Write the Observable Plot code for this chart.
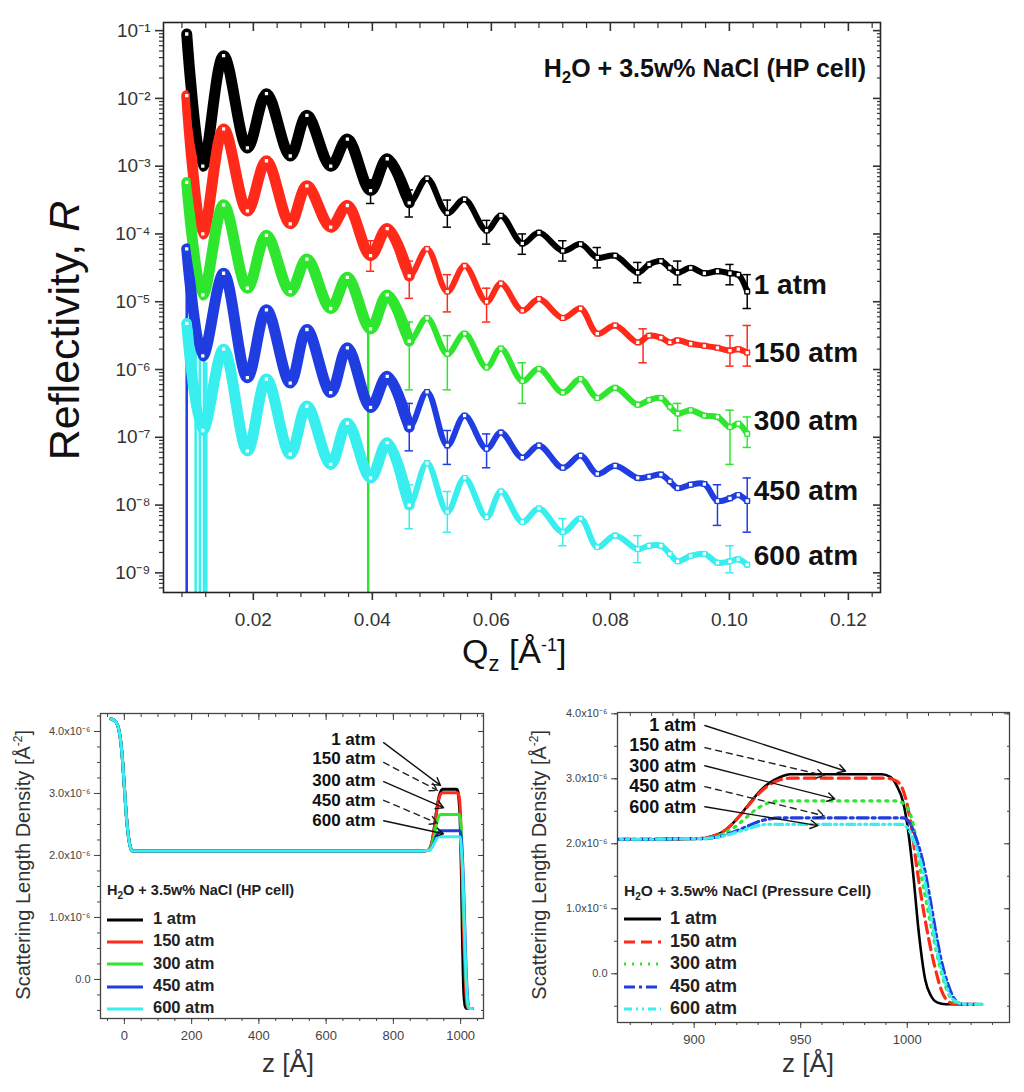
<!DOCTYPE html>
<html>
<head>
<meta charset="utf-8">
<script src="https://cdn.jsdelivr.net/npm/d3@7"></script>
<script src="https://cdn.jsdelivr.net/npm/@observablehq/plot@0.6"></script>
<style>
  body { margin: 0; background: #fff; font-family: "Liberation Sans", Arial, sans-serif; }
  #page { position: relative; width: 1024px; height: 1092px; overflow: hidden; background: #fff; }
  .abs { position: absolute; white-space: nowrap; color: #111; }
  .rot { transform-origin: center center; }
  .leg { position: absolute; font-weight: bold; color: #222; white-space: nowrap; }
  .leg svg { vertical-align: middle; }
</style>
</head>
<body>
<div id="page">
  <div id="main" class="abs" style="left:0;top:0"></div>
  <div id="sldLeft" class="abs" style="left:0;top:690px"></div>
  <div id="sldRight" class="abs" style="left:512px;top:690px"></div>

  <!-- titles and axis labels -->
  <div class="abs" style="right:158px;top:54px;font-size:25px;font-weight:bold">H<sub style="font-size:17px">2</sub>O + 3.5w% NaCl (HP cell)</div>
  <div class="abs rot" style="left:-86px;top:306px;width:300px;text-align:center;font-size:43px;transform:rotate(-90deg)">Reflectivity, <i>R</i></div>
  <div class="abs" style="left:462px;top:632px;font-size:34px">Q<sub style="font-size:22px">z</sub> [Å<sup style="font-size:18px">-1</sup>]</div>

  <div class="abs rot" style="left:-152px;top:853px;width:350px;text-align:center;font-size:20px;color:#333;transform:rotate(-90deg)">Scattering Length Density [Å<sup style="font-size:12px">-2</sup>]</div>
  <div class="abs" style="left:262px;top:1048px;font-size:26px;color:#333">z [Å]</div>

  <div class="abs rot" style="left:364px;top:853px;width:350px;text-align:center;font-size:20px;color:#333;transform:rotate(-90deg)">Scattering Length Density [Å<sup style="font-size:12px">-2</sup>]</div>
  <div class="abs" style="left:782px;top:1048px;font-size:26px;color:#333">z [Å]</div>

  <div id="legLeft"></div>
  <div id="legRight"></div>
</div>

<script>
// ---------- reflectivity curves (values are log10 R) ----------
const pressures = ["1 atm", "150 atm", "300 atm", "450 atm", "600 atm"];
const colors = ["#000000", "#ff2a1a", "#2fe62f", "#1f3de0", "#38eeee"];

const qz = [0.0088, 0.0115, 0.0150, 0.0190, 0.0222, 0.0262, 0.0290, 0.0330, 0.0358, 0.0397,
            0.0425, 0.0462, 0.0492, 0.0526, 0.0555, 0.0592, 0.0616, 0.0652, 0.0680, 0.0720,
            0.0750, 0.0778, 0.0808, 0.0846, 0.0865, 0.0885, 0.0900, 0.0913, 0.0935, 0.0958,
            0.0980, 0.1001, 0.1015, 0.1030];

const logR1 = [-1.05, -3.0, -1.37, -2.73, -1.93, -2.85, -2.25, -3.0, -2.6, -3.36,
               -2.89, -3.54, -3.18, -3.69, -3.49, -3.95, -3.73, -4.14, -3.98, -4.25,
               -4.15, -4.35, -4.32, -4.57, -4.45, -4.4, -4.5, -4.57, -4.5, -4.58,
               -4.55, -4.58, -4.6, -4.85];
const logR150 = [-1.96, -4.0, -2.45, -3.66, -2.92, -3.85, -3.29, -3.9, -3.58, -4.32,
                 -3.92, -4.62, -4.22, -4.85, -4.47, -5.0, -4.73, -5.13, -4.96, -5.24,
                 -5.1, -5.47, -5.35, -5.6, -5.5, -5.53, -5.6, -5.57, -5.62, -5.65,
                 -5.68, -5.72, -5.7, -5.75];
const logR300 = [-3.24, -4.9, -3.57, -4.8, -4.02, -4.85, -4.37, -5.1, -4.64, -5.4,
                 -4.9, -5.58, -5.24, -5.77, -5.47, -5.97, -5.69, -6.17, -5.99, -6.34,
                 -6.14, -6.42, -6.27, -6.52, -6.45, -6.42, -6.55, -6.65, -6.6, -6.68,
                 -6.7, -6.85, -6.8, -6.95];
const logR450 = [-4.22, -5.8, -4.58, -6.12, -5.12, -6.2, -5.41, -6.34, -5.68, -6.56,
                 -6.1, -6.85, -6.33, -7.12, -6.68, -7.17, -6.93, -7.3, -7.12, -7.45,
                 -7.27, -7.54, -7.42, -7.6, -7.58, -7.55, -7.65, -7.75, -7.7, -7.69,
                 -7.94, -7.9, -7.85, -7.94];
const logR600 = [-5.32, -6.9, -5.7, -7.2, -6.14, -7.25, -6.54, -7.4, -6.79, -7.6,
                 -7.08, -8.0, -7.38, -8.1, -7.6, -8.18, -7.8, -8.25, -8.05, -8.4,
                 -8.2, -8.62, -8.45, -8.65, -8.6, -8.6, -8.72, -8.83, -8.75, -8.72,
                 -8.85, -8.83, -8.8, -8.88];
const logR = [logR1, logR150, logR300, logR450, logR600];

// error bars [series, q, low, high] (log10)
const errBars = [
  [0, 0.0397, -3.55, -3.2], [0, 0.0462, -3.75, -3.35], [0, 0.0526, -3.9, -3.5], [0, 0.0592, -4.15, -3.8],
  [0, 0.0652, -4.3, -4.0], [0, 0.0720, -4.4, -4.1], [0, 0.0778, -4.5, -4.2], [0, 0.0846, -4.72, -4.42],
  [0, 0.0913, -4.75, -4.4], [0, 0.1001, -4.75, -4.45], [0, 0.1030, -5.1, -4.6],
  [1, 0.0397, -4.55, -4.1], [1, 0.0462, -4.95, -4.4], [1, 0.0526, -5.15, -4.6], [1, 0.0592, -5.3, -4.8],
  [1, 0.0855, -5.9, -5.4], [1, 0.1001, -5.95, -5.5], [1, 0.1030, -5.95, -5.35],
  [2, 0.0462, -6.3, -5.3], [2, 0.0526, -6.3, -5.5], [2, 0.0652, -6.5, -5.9], [2, 0.0913, -6.9, -6.5],
  [2, 0.1001, -7.4, -6.6], [2, 0.1030, -7.15, -6.7],
  [3, 0.0462, -7.2, -6.5], [3, 0.0526, -7.4, -6.9], [3, 0.0592, -7.45, -6.95], [3, 0.0980, -8.3, -7.7],
  [3, 0.1030, -8.4, -7.6],
  [4, 0.0462, -8.35, -7.7], [4, 0.0526, -8.4, -7.8], [4, 0.0720, -8.6, -8.2], [4, 0.0846, -8.85, -8.45],
  [4, 0.1001, -9.0, -8.6]
];
// error bars whose lower end runs off the bottom of the log axis [series, q, top]
const errToZero = [[3, 0.0088, -4.3], [4, 0.0103, -5.5], [4, 0.0110, -5.6], [4, 0.0117, -5.8],
                   [4, 0.0121, -5.9], [2, 0.0393, -5.3]];

// series labels at the right end (log10 R of label centre)
const labelLogR = [-4.76, -5.75, -6.76, -7.79, -8.75];

const yTickExps = [-1, -2, -3, -4, -5, -6, -7, -8, -9];
const xTicks = [0.02, 0.04, 0.06, 0.08, 0.10, 0.12];
const xTickLabels = ["0.02", "0.04", "0.06", "0.08", "0.10", "0.12"];

// ---------- SLD profiles (units of 1e-6 Å^-2) ----------
const zBulk = [-40, -30, -20, -10, -5, 0, 5, 10, 15, 20, 25, 30, 880, 900];
const sldBulk = [4.2, 4.18, 4.1, 3.8, 3.5, 3.1, 2.7, 2.4, 2.2, 2.1, 2.07, 2.07, 2.07, 2.08];

const zTop1 = [905, 910, 915, 920, 925, 930, 935, 940, 945, 988, 992, 995, 998, 1000, 1002.5, 1005.5, 1008.5, 1011, 1014, 1018, 1035];
const sldTop1 = [2.09, 2.13, 2.22, 2.38, 2.58, 2.78, 2.93, 3.02, 3.07, 3.07, 3.03, 2.9, 2.65, 2.3, 1.63, 0.61, -0.1, -0.33, -0.44, -0.47, -0.47];
const zTop150 = [905, 910, 915, 920, 925, 930, 935, 940, 945, 990, 994, 997, 1000, 1002, 1004.5, 1007, 1010, 1013, 1016, 1019, 1023, 1035];
const sldTop150 = [2.09, 2.13, 2.22, 2.38, 2.57, 2.76, 2.9, 2.98, 3.01, 3.01, 2.98, 2.9, 2.6, 2.25, 1.63, 1.1, 0.55, 0.1, -0.25, -0.42, -0.47, -0.47];
const zTop300 = [905, 910, 915, 920, 925, 930, 935, 940, 995, 999, 1002, 1004, 1006, 1009, 1012, 1015, 1018, 1021, 1025, 1035];
const sldTop300 = [2.08, 2.11, 2.18, 2.28, 2.42, 2.55, 2.63, 2.66, 2.66, 2.6, 2.4, 2.1, 1.63, 1.1, 0.6, 0.15, -0.2, -0.4, -0.47, -0.47];
const zTop450 = [905, 910, 915, 920, 925, 930, 935, 940, 998, 1001, 1004, 1008, 1011, 1013.5, 1016, 1019, 1022, 1026, 1035];
const sldTop450 = [2.08, 2.1, 2.14, 2.2, 2.27, 2.34, 2.38, 2.4, 2.4, 2.33, 2.1, 1.63, 1.1, 0.62, 0.2, -0.15, -0.38, -0.47, -0.47];
const zTop600 = [905, 910, 915, 920, 925, 930, 935, 997, 1000, 1003, 1007, 1010, 1012.5, 1015, 1018, 1021, 1027, 1035];
const sldTop600 = [2.08, 2.1, 2.13, 2.18, 2.23, 2.28, 2.3, 2.3, 2.25, 2.05, 1.63, 1.1, 0.62, 0.2, -0.15, -0.38, -0.47, -0.47];
const zTop = [zTop1, zTop150, zTop300, zTop450, zTop600];
const sldTop = [sldTop1, sldTop150, sldTop300, sldTop450, sldTop600];

// annotation arrows [series, labelZ, labelSLD, z1, sld1, z2, sld2]
const arrowsLeft = [
  [0, 747, 3.87, 771, 3.82, 940, 3.13], [1, 747, 3.56, 771, 3.5, 931, 3.05],
  [2, 747, 3.21, 771, 3.19, 949, 2.77], [3, 747, 2.89, 771, 2.89, 931, 2.52],
  [4, 747, 2.56, 771, 2.56, 949, 2.35]
];
const arrowsRight = [
  [0, 901, 3.83, 905, 3.82, 971, 3.12], [1, 901, 3.51, 905, 3.48, 961, 3.05],
  [2, 901, 3.2, 905, 3.2, 966, 2.69], [3, 901, 2.88, 905, 2.88, 961, 2.43],
  [4, 901, 2.57, 905, 2.57, 958, 2.28]
];
const dashStyles = [null, "11,6", "2,6", "11,4,3,4", "8,4,2,4,2,4"];

// ---------- build tables ----------
const refl = [];
pressures.forEach((p, i) => qz.forEach((q, j) => refl.push({p, q, R: 10 ** logR[i][j]})));
const errs = errBars.map(([s, q, lo, hi]) => ({p: pressures[s], q, lo: 10 ** lo, hi: 10 ** hi}));
const errsZero = errToZero.map(([s, q, top]) => ({p: pressures[s], q, top: 10 ** top}));
const labels = pressures.map((p, i) => ({p, R: 10 ** labelLogR[i]}));

const sld = [];
pressures.forEach((p, i) => {
  zBulk.forEach((z, j) => sld.push({p, z, v: sldBulk[j]}));
  zTop[i].forEach((z, j) => sld.push({p, z, v: sldTop[i][j]}));
});

const sup = (n) => String(n).replace(/-/g, "⁻").replace(/\d/g, (c) => "⁰¹²³⁴⁵⁶⁷⁸⁹"[+c]);

// ---------- main reflectivity panel ----------
const yMin = 10 ** -9.29, yMax = 10 ** -0.88;
const yMajor = yTickExps.map((e) => 10 ** e);
const yMinor = [];
for (let e = -10; e <= -1; e++) for (let m = 2; m <= 9; m++) {
  const v = m * 10 ** e;
  if (v > yMin && v < yMax) yMinor.push(v);
}
const xMinor = d3.range(0.008, 0.125, 0.004).filter((v) => !xTicks.some((t) => Math.abs(t - v) < 1e-6));
const capW = 0.0007;

const main = Plot.plot({
  width: 1024, height: 690,
  marginLeft: 163, marginRight: 144, marginTop: 22, marginBottom: 98,
  x: {domain: [0.0049, 0.1254]},
  y: {type: "log", domain: [yMin, yMax]},
  color: {domain: pressures, range: colors},
  style: {fontFamily: "Liberation Sans, Arial, sans-serif", fontSize: "19px", color: "#333", background: "transparent"},
  marks: [
    Plot.ruleX(errsZero, {x: "q", y1: "top", y2: yMin, stroke: "p", strokeWidth: 2.5}),
    Plot.ruleX(errs, {x: "q", y1: "lo", y2: "hi", stroke: "p", strokeWidth: 1.5}),
    Plot.ruleY(errs, {y: "lo", x1: (d) => d.q - capW, x2: (d) => d.q + capW, stroke: "p", strokeWidth: 1.5}),
    Plot.ruleY(errs, {y: "hi", x1: (d) => d.q - capW, x2: (d) => d.q + capW, stroke: "p", strokeWidth: 1.5}),
    Plot.line(refl.filter((d) => d.q < 0.048), {x: "q", y: "R", z: "p", stroke: "p", strokeWidth: 11, curve: "catmull-rom"}),
    Plot.line(refl, {x: "q", y: "R", z: "p", stroke: "p", strokeWidth: 6, curve: "catmull-rom"}),
    Plot.dot(refl, {x: "q", y: "R", stroke: "p", fill: "white", symbol: "square", r: 2.6, strokeWidth: 1.3}),
    Plot.text(labels, {x: 0.1041, y: "R", text: "p", textAnchor: "start", fontSize: 28, fontWeight: "bold", fill: "#111"}),
    Plot.frame({stroke: "#222", strokeWidth: 1.6}),
    Plot.axisY(yMajor, {anchor: "left", tickSize: 8, tickPadding: 5, strokeWidth: 1.6, label: null,
      tickFormat: (d) => "10" + sup(Math.round(Math.log10(d))), fontSize: 19}),
    Plot.axisY(yMinor, {anchor: "left", tickSize: 4, strokeWidth: 1.2, label: null, tickFormat: () => ""}),
    Plot.axisY(yMajor, {anchor: "right", tickSize: -8, strokeWidth: 1.6, label: null, tickFormat: () => ""}),
    Plot.axisY(yMinor, {anchor: "right", tickSize: -4, strokeWidth: 1.2, label: null, tickFormat: () => ""}),
    Plot.axisX(xTicks, {anchor: "bottom", tickSize: 8, tickPadding: 12, strokeWidth: 1.6, label: null,
      tickFormat: (d) => xTickLabels[xTicks.indexOf(d)], fontSize: 19}),
    Plot.axisX(xMinor, {anchor: "bottom", tickSize: 5, strokeWidth: 1.2, label: null, tickFormat: () => ""}),
    Plot.axisX(xTicks, {anchor: "top", tickSize: -8, strokeWidth: 1.6, label: null, tickFormat: () => ""}),
    Plot.axisX(xMinor, {anchor: "top", tickSize: -5, strokeWidth: 1.2, label: null, tickFormat: () => ""})
  ]
});
d3.select("#main").append(() => main);

// ---------- SLD panels ----------
function sldPanel({xDomain, yDomain, xTickVals, xMinorVals, yMinorVals, margins, dashed, arrows, labelSize}) {
  const yTicks = [0, 1, 2, 3, 4].filter((v) => v <= yDomain[1] + 1e-9);
  const arrowData = arrows.map(([s, lx, ly, x1, y1, x2, y2]) => ({p: pressures[s], s, lx, ly, x1, y1, x2, y2}));
  const lineMarks = dashed
    ? pressures.map((p, i) => Plot.line(sld.filter((d) => d.p === p), {x: "z", y: "v", stroke: colors[i],
        strokeWidth: i === 0 ? 2.6 : 3.2, strokeDasharray: dashStyles[i], curve: "monotone-x", clip: true}))
    : [Plot.line(sld, {x: "z", y: "v", z: "p", stroke: "p", strokeWidth: 3, curve: "monotone-x", clip: true})];
  return Plot.plot({
    width: 512, height: 402,
    marginLeft: margins[0], marginRight: margins[1], marginTop: margins[2], marginBottom: margins[3],
    x: {domain: xDomain},
    y: {domain: yDomain},
    color: {domain: pressures, range: colors},
    style: {fontFamily: "Liberation Sans, Arial, sans-serif", fontSize: "13px", color: "#444", background: "transparent"},
    marks: [
      ...lineMarks,
      Plot.arrow(arrowData.filter((d) => d.s % 2 === 0), {x1: "x1", y1: "y1", x2: "x2", y2: "y2", stroke: "#111",
        strokeWidth: 1.4, headLength: 9}),
      Plot.arrow(arrowData.filter((d) => d.s % 2 === 1), {x1: "x1", y1: "y1", x2: "x2", y2: "y2", stroke: "#222",
        strokeWidth: 1.4, headLength: 9, strokeDasharray: "6,5"}),
      Plot.text(arrowData, {x: "lx", y: "ly", text: "p", textAnchor: "end", fontWeight: "bold", fontSize: labelSize, fill: "#111"}),
      Plot.frame({stroke: "#444", strokeWidth: 1.3}),
      Plot.axisY(yTicks, {anchor: "left", tickSize: 6, tickPadding: 4, label: null, fontSize: 11, stroke: "#444",
        tickFormat: (d) => d === 0 ? "0.0" : d.toFixed(1) + "x10⁻⁶"}),
      Plot.axisY(yMinorVals, {anchor: "left", tickSize: 3, label: null, stroke: "#444", tickFormat: () => ""}),
      Plot.axisY(yTicks, {anchor: "right", tickSize: -6, label: null, stroke: "#444", tickFormat: () => ""}),
      Plot.axisY(yMinorVals, {anchor: "right", tickSize: -3, label: null, stroke: "#444", tickFormat: () => ""}),
      Plot.axisX(xTickVals, {anchor: "bottom", tickSize: 6, tickPadding: 6, label: null, fontSize: 13, stroke: "#444",
        tickFormat: (d) => String(d)}),
      Plot.axisX(xMinorVals, {anchor: "bottom", tickSize: 3, label: null, stroke: "#444", tickFormat: () => ""}),
      Plot.axisX(xTickVals, {anchor: "top", tickSize: -6, label: null, stroke: "#444", tickFormat: () => ""}),
      Plot.axisX(xMinorVals, {anchor: "top", tickSize: -3, label: null, stroke: "#444", tickFormat: () => ""})
    ]
  });
}

const left = sldPanel({
  xDomain: [-71, 1068], yDomain: [-0.63, 4.29],
  xTickVals: [0, 200, 400, 600, 800, 1000], xMinorVals: d3.range(-50, 1051, 50),
  yMinorVals: d3.range(-0.5, 4.26, 0.25),
  margins: [100, 29, 23, 74], dashed: false, arrows: arrowsLeft, labelSize: 17
});
d3.select("#sldLeft").append(() => left);

const right = sldPanel({
  xDomain: [864, 1048], yDomain: [-0.75, 4.02],
  xTickVals: [900, 950, 1000], xMinorVals: d3.range(870, 1041, 10),
  yMinorVals: d3.range(-0.5, 4.01, 0.5),
  margins: [105, 15, 22, 70], dashed: true, arrows: arrowsRight, labelSize: 18
});
d3.select("#sldRight").append(() => right);

// ---------- in-panel legends ----------
function legend(el, {left, top, title, rowH, lineW, textX, fontSize, titleSize, dashed}) {
  const box = d3.select(el);
  box.append("div").attr("class", "leg")
    .style("left", left + "px").style("top", top + "px").style("font-size", titleSize + "px")
    .html(title);
  pressures.forEach((p, i) => {
    const y = top + 25 + i * rowH;
    const row = box.append("div").attr("class", "leg")
      .style("left", left + "px").style("top", y + "px").style("font-size", fontSize + "px")
      .style("height", rowH + "px").style("line-height", rowH + "px");
    row.append("svg").attr("width", lineW).attr("height", 8)
      .style("margin-right", (textX - lineW) + "px")
      .append("line").attr("x1", 0).attr("x2", lineW).attr("y1", 4).attr("y2", 4)
      .attr("stroke", colors[i]).attr("stroke-width", 3.2)
      .attr("stroke-dasharray", dashed ? dashStyles[i] : null);
    row.append("span").text(p);
  });
}
legend("#legLeft", {left: 107, top: 882, title: "H<sub style='font-size:10px'>2</sub>O + 3.5w% NaCl (HP cell)",
  rowH: 22.3, lineW: 36, textX: 46, fontSize: 16.5, titleSize: 14.5, dashed: false});
legend("#legRight", {left: 624, top: 882, title: "H<sub style='font-size:10px'>2</sub>O + 3.5w% NaCl (Pressure Cell)",
  rowH: 22.5, lineW: 37, textX: 46, fontSize: 18, titleSize: 15.5, dashed: true});
</script>
</body>
</html>
